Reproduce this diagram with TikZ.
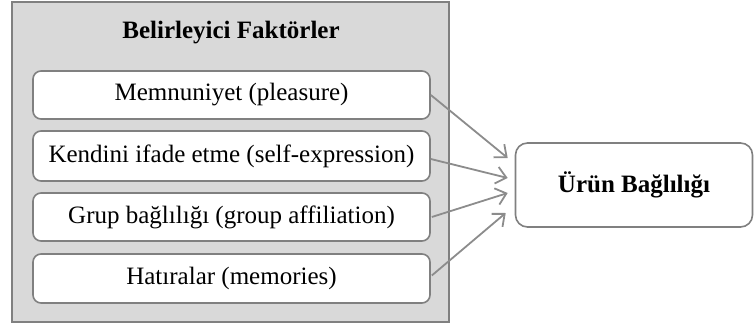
\documentclass[tikz,border=0pt]{standalone}
\usepackage{fontspec}
\setmainfont{Liberation Serif}
\usetikzlibrary{arrows.meta,calc}
\definecolor{panelfill}{HTML}{D9D9D9}
\definecolor{edgegray}{HTML}{808080}
\definecolor{arrowgray}{HTML}{8C8C8C}
\tikzset{
  panel/.style={draw=edgegray, line width=1.8pt, fill=panelfill, minimum width=437pt, minimum height=320pt, inner sep=0pt},
  factor/.style={draw=edgegray, line width=1.6pt, fill=white, rounded corners=8pt, minimum width=397pt, inner sep=0pt, font=\fontsize{25}{30}\selectfont},
  outcome/.style={draw=edgegray, line width=1.6pt, fill=white, rounded corners=12pt, minimum width=237pt, minimum height=84pt, inner sep=0pt, font=\fontsize{25}{30}\selectfont\bfseries},
  link/.style={draw=arrowgray, line width=1.8pt, -{Straight Barb[length=10pt,width=17pt,line width=1.8pt]}}
}
\begin{document}
\begin{tikzpicture}[x=1pt,y=-1pt]
  \useasboundingbox (0,0) rectangle (754,326);
  % left panel with the four factors
  \node[panel] (panel) at (230.5,162) {};
  \node[font=\fontsize{25}{30}\selectfont\bfseries] (title) at (231,33) {Belirleyici Faktörler};
  \node[factor, minimum height=48pt] (f1) at (231.5,95) {Memnuniyet (pleasure)};
  \node[factor, minimum height=50pt] (f2) at (231.5,156) {Kendini ifade etme (self-expression)};
  \node[factor, minimum height=48pt] (f3) at (231.5,217) {Grup bağlılığı (group affiliation)};
  \node[factor, minimum height=49pt] (f4) at (231.5,278.5) {Hatıralar (memories)};
  % outcome box
  \node[outcome] (res) at (634,185) {Ürün Bağlılığı};
  % arrow end points just left of the outcome box
  \coordinate (e1) at ($(res.west)+(-7,-27)$);
  \coordinate (e2) at ($(res.west)+(-7,-7)$);
  \coordinate (e3) at ($(res.west)+(-7,8)$);
  \coordinate (e4) at ($(res.west)+(-9,28)$);
  \draw[link] (f1.east) -- (e1);
  \draw[link] ($(f2.east)+(0,3)$) -- (e2);
  \draw[link] ($(f3.east)+(1,0)$) -- (e3);
  \draw[link] ($(f4.east)+(1,-3)$) -- (e4);
\end{tikzpicture}
\end{document}
